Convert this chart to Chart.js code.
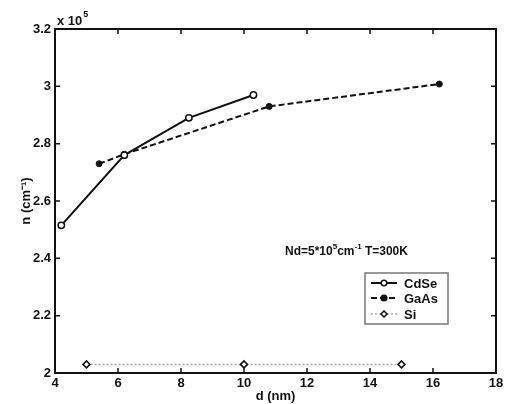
<!DOCTYPE html>
<html>
<head>
<meta charset="utf-8">
<script src="https://cdn.jsdelivr.net/npm/chart.js@4"></script>
<style>
  html, body { margin: 0; padding: 0; background: #fff; }
  #wrap { width: 507px; height: 404px; }
</style>
</head>
<body>
<div id="wrap"><canvas id="myChart" width="507" height="404"></canvas></div>
<script>
// data block (n in units of 10^5 cm^-1, d in nm)
var cdseD = [4.2, 6.2, 8.25, 10.3];
var cdseN = [2.515, 2.76, 2.89, 2.97];
var gaasD = [5.4, 6.2, 10.8, 16.2];
var gaasN = [2.73, 2.763, 2.93, 3.008];
var siD = [5, 10, 15];
var siN = [2.03, 2.03, 2.03];
var xTicks = [4, 6, 8, 10, 12, 14, 16, 18];
var yTicks = [2, 2.2, 2.4, 2.6, 2.8, 3, 3.2];
var seriesNames = ['CdSe', 'GaAs', 'Si'];

function pts(xs, ys) {
    return xs.map(function (x, i) { return { x: x, y: ys[i] }; });
}

var FONT = 'Liberation Sans, Arial, sans-serif';

// plot frame, inward ticks, note text and legend
var framePlugin = {
    id: 'frame',
    afterDraw: function (chart) {
        var ctx = chart.ctx;
        var a = chart.chartArea;
        var xs = chart.scales.x, ys = chart.scales.y;
        ctx.save();
        ctx.strokeStyle = '#111';
        ctx.lineWidth = 2;
        ctx.strokeRect(a.left, a.top, a.right - a.left, a.bottom - a.top);
        ctx.lineWidth = 1.5;
        ctx.beginPath();
        xTicks.forEach(function (v) {
            var px = xs.getPixelForValue(v);
            ctx.moveTo(px, a.bottom); ctx.lineTo(px, a.bottom - 5);
            ctx.moveTo(px, a.top); ctx.lineTo(px, a.top + 5);
        });
        yTicks.forEach(function (v) {
            var py = ys.getPixelForValue(v);
            ctx.moveTo(a.left, py); ctx.lineTo(a.left + 5, py);
            ctx.moveTo(a.right, py); ctx.lineTo(a.right - 5, py);
        });
        ctx.stroke();

        // exponent over the y axis
        ctx.fillStyle = '#111';
        ctx.textBaseline = 'alphabetic';
        ctx.textAlign = 'left';
        ctx.font = 'bold 13px ' + FONT;
        ctx.fillText('x 10', a.left + 2, 25);
        var w = ctx.measureText('x 10').width;
        ctx.font = 'bold 9px ' + FONT;
        ctx.fillText('5', a.left + 3 + w, 17);

        // note text
        var x0 = 285, y0 = 255;
        var parts = [['Nd=5*10', 12, 0], ['5', 8, -6], ['cm', 12, 0], ['-1', 8, -6], [' T=300K', 12, 0]];
        parts.forEach(function (p) {
            ctx.font = 'bold ' + p[1] + 'px ' + FONT;
            ctx.fillText(p[0], x0, y0 + p[2]);
            x0 += ctx.measureText(p[0]).width;
        });

        // legend box
        var lx = 365, ly = 273, lw = 83, lh = 51;
        ctx.fillStyle = '#fff';
        ctx.fillRect(lx, ly, lw, lh);
        ctx.strokeStyle = '#777';
        ctx.lineWidth = 1.5;
        ctx.strokeRect(lx, ly, lw, lh);
        var rows = [283, 298, 314];
        chart.data.datasets.forEach(function (ds, i) {
            var ry = rows[i];
            ctx.strokeStyle = ds.borderColor;
            ctx.lineWidth = ds.borderWidth;
            ctx.setLineDash(ds.borderDash || []);
            ctx.beginPath();
            ctx.moveTo(371, ry); ctx.lineTo(397, ry);
            ctx.stroke();
            ctx.setLineDash([]);
            ctx.lineWidth = 1.5;
            ctx.strokeStyle = '#111';
            ctx.fillStyle = ds.pointBackgroundColor;
            ctx.beginPath();
            if (ds.pointStyle === 'rectRot') {
                ctx.moveTo(384, ry - 3); ctx.lineTo(387, ry); ctx.lineTo(384, ry + 3); ctx.lineTo(381, ry); ctx.closePath();
            } else {
                ctx.arc(384, ry, 2.8, 0, Math.PI * 2);
            }
            ctx.fill();
            ctx.stroke();
            ctx.fillStyle = '#111';
            ctx.font = 'bold 13px ' + FONT;
            ctx.textBaseline = 'middle';
            ctx.fillText(ds.label, 404, ry + 1);
        });
        ctx.restore();
    }
};

var myCrt = document.getElementById('myChart');
var myChart = new Chart(myCrt, {
    type: 'line',
    data: {
        datasets: [{
            label: seriesNames[0],
            data: pts(cdseD, cdseN),
            borderColor: '#111',
            borderWidth: 2,
            pointStyle: 'circle',
            pointRadius: 3.2,
            pointBorderWidth: 1.5,
            pointBorderColor: '#111',
            pointBackgroundColor: '#fff'
        }, {
            label: seriesNames[1],
            data: pts(gaasD, gaasN),
            borderColor: '#111',
            borderWidth: 2,
            borderDash: [6, 3],
            pointStyle: 'circle',
            pointRadius: 3,
            pointBorderWidth: 1,
            pointBorderColor: '#111',
            pointBackgroundColor: '#111'
        }, {
            label: seriesNames[2],
            data: pts(siD, siN),
            borderColor: '#aaa',
            borderWidth: 1.5,
            borderDash: [2, 2],
            pointStyle: 'rectRot',
            pointRadius: 3.5,
            pointBorderWidth: 1.5,
            pointBorderColor: '#111',
            pointBackgroundColor: '#fff'
        }]
    },
    options: {
        responsive: false,
        animation: false,
        events: [],
        layout: { padding: { left: 0, top: 29, right: 11, bottom: 0 } },
        plugins: { legend: { display: false }, tooltip: { enabled: false } },
        scales: {
            x: {
                type: 'linear',
                min: 4, max: 18,
                afterBuildTicks: function (s) { s.ticks = xTicks.map(function (v) { return { value: v }; }); },
                afterFit: function (s) { s.height = 31; },
                grid: { display: false, drawTicks: false },
                border: { display: false },
                ticks: { color: '#111', padding: 3, maxRotation: 0, font: { family: FONT, size: 13, weight: 'bold' } },
                title: { display: true, text: 'd (nm)', color: '#111', padding: { top: 0, bottom: 0 }, font: { family: FONT, size: 13, weight: 'bold' } }
            },
            y: {
                min: 2, max: 3.2,
                afterBuildTicks: function (s) { s.ticks = yTicks.map(function (v) { return { value: v }; }); },
                afterFit: function (s) { s.width = 55; },
                grid: { display: false, drawTicks: false },
                border: { display: false },
                ticks: {
                    color: '#111', padding: 4,
                    font: { family: FONT, size: 13, weight: 'bold' },
                    callback: function (v) { return String(Number(v.toFixed(1))); }
                },
                title: { display: true, text: 'n (cm\u207B\u00B9)', color: '#111', padding: { top: 19, bottom: 0 }, font: { family: FONT, size: 13, weight: 'bold' } }
            }
        }
    },
    plugins: [framePlugin]
});
</script>
</body>
</html>
